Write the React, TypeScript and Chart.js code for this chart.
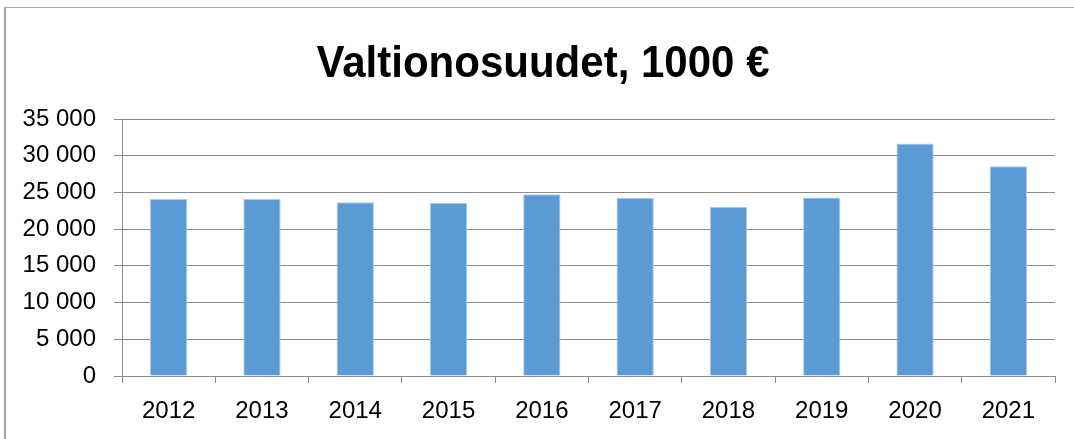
import React, { useEffect, useRef } from "react";
import { Chart, registerables } from "chart.js";

Chart.register(...registerables);

const TITLE = "Valtionosuudet, 1000 €";
const YEARS = ["2012", "2013", "2014", "2015", "2016", "2017", "2018", "2019", "2020", "2021"];
const VALUES = [24100, 24100, 23650, 23550, 24750, 24250, 23050, 24300, 31650, 28550];
const Y_MIN = 0;
const Y_MAX = 35000;
const Y_STEP = 5000;

const fmt = (v: number) => String(v).replace(/\B(?=(\d{3})+(?!\d))/g, " ");

const titlePlugin = {
  id: "condensedTitle",
  afterDraw(chart: any) {
    const ctx = chart.ctx;
    ctx.save();
    ctx.font = "bold 45px 'Liberation Sans', Arial, sans-serif";
    ctx.fillStyle = "#000";
    ctx.textAlign = "center";
    ctx.textBaseline = "alphabetic";
    const w = ctx.measureText(TITLE).width;
    const sx = 453 / w;
    ctx.translate(543, 77);
    ctx.scale(sx, 1);
    ctx.fillText(TITLE, 0, 0);
    ctx.restore();
  },
};

export default function App() {
  const ref = useRef<HTMLCanvasElement | null>(null);

  useEffect(() => {
    document.body.style.margin = "0";
    if (!ref.current) return;
    const gridColor = "#8c8c8c";
    const tickFont = { family: "'Liberation Sans', Arial, sans-serif", size: 24 };
    const chart = new Chart(ref.current, {
      type: "bar",
      data: {
        labels: YEARS,
        datasets: [
          {
            data: VALUES,
            backgroundColor: "#5B9BD5",
            borderColor: "#a9c8ea",
            borderWidth: 1,
            barPercentage: 0.4,
            categoryPercentage: 1,
          },
        ],
      },
      options: {
        animation: false,
        responsive: false,
        devicePixelRatio: 1,
        layout: { padding: { left: 0, right: 19, top: 119, bottom: 0 } },
        plugins: {
          legend: { display: false },
          tooltip: { enabled: false },
          title: { display: false },
        },
        scales: {
          x: {
            grid: {
              offset: true,
              drawOnChartArea: false,
              drawTicks: true,
              tickLength: 7,
              color: gridColor,
            },
            border: { display: true, color: gridColor },
            ticks: { color: "#000", font: tickFont, padding: 14, maxRotation: 0 },
            afterFit: (scale: any) => {
              scale.height = 63;
            },
          },
          y: {
            min: Y_MIN,
            max: Y_MAX,
            ticks: {
              stepSize: Y_STEP,
              color: "#000",
              font: tickFont,
              padding: 18,
              callback: (v: any) => fmt(Number(v)),
            },
            grid: { color: gridColor, tickLength: 8, drawTicks: true },
            border: { display: true, color: gridColor },
            afterFit: (scale: any) => {
              scale.width = 122;
            },
          },
        },
      },
      plugins: [titlePlugin],
    });
    return () => chart.destroy();
  }, []);

  return (
    <div style={{ position: "absolute", left: 0, top: 0, width: 1074, height: 439, overflow: "hidden", background: "#fff" }}>
      <canvas ref={ref} width={1074} height={439} style={{ display: "block", position: "absolute", left: 0, top: 0 }} />
      <div
        style={{
          position: "absolute",
          left: 4,
          top: 7,
          width: 1200,
          height: 600,
          borderTop: "1px solid #a6a6a6",
          borderLeft: "2px solid #a6a6a6",
          pointerEvents: "none",
        }}
      />
    </div>
  );
}
